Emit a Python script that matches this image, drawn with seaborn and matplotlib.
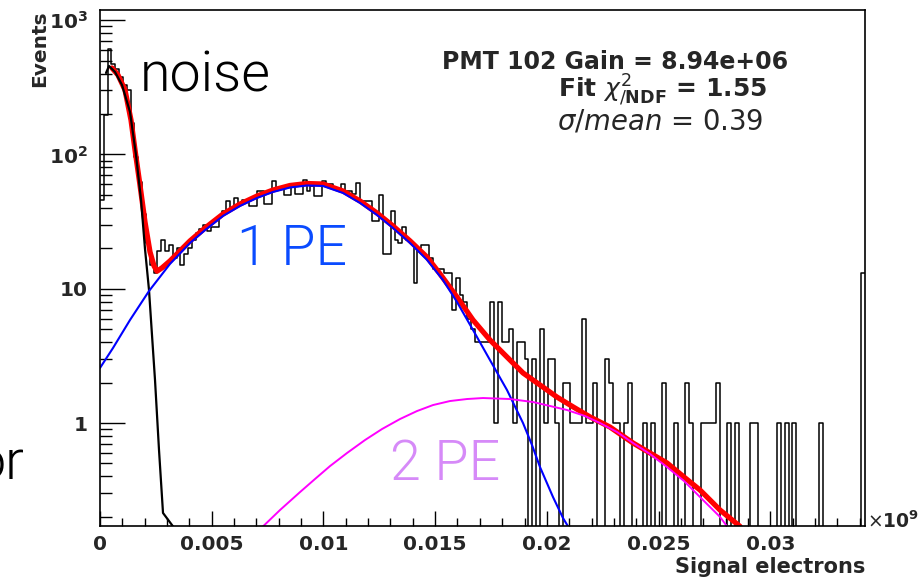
import numpy as np
import matplotlib
matplotlib.use("Agg")
import matplotlib.pyplot as plt
import seaborn as sns
from matplotlib.ticker import MultipleLocator, LogLocator, NullFormatter

# histogram: 200 bins from 0 to 0.03424 (x 10^9 signal electrons)
x_max = 0.03424
n_bins = 200
counts = [
    46, 198, 612, 474, 430, 380, 330, 300, 170, 95,
    62, 36, 22, 15, 13, 19, 23, 19, 21, 17,
    20, 15, 18, 20, 23, 26, 28, 30, 27, 29,
    29, 35, 38, 45, 40, 47, 43, 46, 46, 41,
    41, 53, 53, 43, 43, 63, 56, 56, 50, 50,
    58, 51, 51, 65, 53, 58, 49, 49, 63, 60,
    60, 55, 55, 60, 53, 53, 51, 61, 45, 45,
    45, 32, 32, 50, 18, 18, 38, 23, 22, 29,
    23, 22, 11, 20, 21, 21, 17, 14, 14, 14,
    13, 13, 7, 12, 9, 8, 6, 5, 4, 4,
    4, 4, 8, 1, 8, 4, 4, 5, 1, 4,
    4, 3, 0, 3, 0, 5, 1, 3, 3, 1,
    0, 2, 2, 1, 1, 1, 6, 1, 1, 2,
    0, 0, 3, 2, 1, 1, 0, 1, 2, 0,
    0, 0, 1, 0, 1, 0, 0, 2, 0, 0,
    1, 0, 0, 2, 1, 0, 0, 1, 1, 1,
    1, 2, 0, 0, 1, 0, 1, 0, 0, 0,
    1, 1, 0, 0, 0, 0, 0, 1, 0, 1,
    0, 1, 0, 0, 0, 0, 0, 0, 1, 0,
    0, 0, 0, 0, 0, 0, 0, 0, 0, 13,
]
bin_centers = (np.arange(n_bins) + 0.5) * x_max / n_bins

# fit curves
noise_x = [0.000269, 0.000403, 0.000671, 0.000985, 0.001343, 0.001611, 0.001835,
           0.002014, 0.002193, 0.002328, 0.002462, 0.002641, 0.002820, 0.003267]
noise_y = [404, 455, 411, 329, 207, 99, 46, 19.8, 9.8, 4.5, 2.09, 0.63, 0.214, 0.17]

total_x = [0.000537, 0.000806, 0.001119, 0.001388, 0.001567, 0.00179, 0.002014,
           0.002238, 0.002417, 0.002551, 0.002775, 0.003133, 0.004028, 0.0047,
           0.005505, 0.006266, 0.007027, 0.007743, 0.008504, 0.009265, 0.00998,
           0.010877, 0.011638, 0.012398, 0.013115, 0.013876, 0.014636, 0.015218,
           0.015979, 0.016695, 0.017456, 0.018217, 0.018933, 0.019694, 0.020455,
           0.021171, 0.021932, 0.022828, 0.023857, 0.024618, 0.025379, 0.02614,
           0.026856, 0.027751, 0.028646]
total_y = [440, 390, 302, 180, 108, 59, 31.4, 18.8, 14.8, 13.5, 14.3, 16.1, 22.7, 28.3,
           36.0, 42.7, 49.0, 54.3, 58.7, 60.7, 60.2, 53.4, 45.0, 36.6, 29.3, 22.7,
           17.2, 12.9, 8.67, 5.85, 4.15, 3.10, 2.36, 1.92, 1.56, 1.32, 1.11, 0.933,
           0.710, 0.598, 0.504, 0.396, 0.317, 0.225, 0.17]

pe1_x = [0.0, 0.000582, 0.001343, 0.002193, 0.003133, 0.004028, 0.0047, 0.005505,
         0.006266, 0.007027, 0.007743, 0.008504, 0.009265, 0.00998, 0.010877, 0.011638,
         0.012398, 0.013115, 0.013876, 0.014636, 0.015352, 0.015979, 0.016695, 0.017456,
         0.018217, 0.018933, 0.019336, 0.019694, 0.020276, 0.020724, 0.020948]
pe1_y = [2.57, 3.62, 5.85, 9.61, 15.3, 21.9, 27.3, 34.8, 41.3, 47.4, 52.5, 56.7, 58.7,
         58.2, 51.6, 43.5, 35.4, 28.3, 21.9, 16.4, 11.6, 7.96, 4.93, 2.94, 1.76, 1.0,
         0.686, 0.470, 0.281, 0.196, 0.17]

pe2_x = [0.007296, 0.008057, 0.008952, 0.009623, 0.010295, 0.011056, 0.011861, 0.012622,
         0.013428, 0.014189, 0.014905, 0.015666, 0.016427, 0.017143, 0.018352, 0.019381,
         0.020142, 0.020903, 0.021709, 0.02238, 0.023141, 0.023857, 0.024618, 0.025379,
         0.02614, 0.026856, 0.027304, 0.027751, 0.028065]
pe2_y = [0.17, 0.225, 0.306, 0.383, 0.478, 0.598, 0.747, 0.902, 1.071, 1.228, 1.361,
         1.458, 1.509, 1.535, 1.509, 1.433, 1.339, 1.25, 1.127, 1.0, 0.857, 0.710,
         0.588, 0.470, 0.370, 0.281, 0.237, 0.200, 0.17]

x_ticks = [0, 0.005, 0.01, 0.015, 0.02, 0.025, 0.03]
x_tick_labels = ["0", "0.005", "0.01", "0.015", "0.02", "0.025", "0.03"]
y_ticks = [1, 10, 100, 1000]
y_tick_labels = ["1", "10", r"$\mathbf{10^{2}}$", r"$\mathbf{10^{3}}$"]

sns.set_style("ticks")
plt.rcParams['font.family'] = ['DejaVu Sans']

W, H = 922, 583
fig = plt.figure(figsize=(W / 100, H / 100), dpi=100)
ax = fig.add_axes([100 / W, 1 - 525.7 / H, 765 / W, 515.7 / H])

sns.histplot(x=bin_centers, weights=counts, bins=n_bins, binrange=(0, x_max),
             element="step", fill=False, color="black", linewidth=1.1, ax=ax)
ax.set_yscale("log")

sns.lineplot(x=total_x, y=total_y, color="#ff0000", linewidth=3.8, sort=False,
             estimator=None, ax=ax)
sns.lineplot(x=noise_x, y=noise_y, color="black", linewidth=1.6, sort=False,
             estimator=None, ax=ax)
sns.lineplot(x=pe1_x, y=pe1_y, color="#0000ff", linewidth=1.5, sort=False,
             estimator=None, ax=ax)
sns.lineplot(x=pe2_x, y=pe2_y, color="#ff00ff", linewidth=1.4, sort=False,
             estimator=None, ax=ax)

ax.set_xlim(0, x_max)
ax.set_ylim(0.172, 1189)

ax.set_xticks(x_ticks)
ax.set_xticklabels(x_tick_labels)
ax.xaxis.set_minor_locator(MultipleLocator(0.001))
ax.set_yticks(y_ticks)
ax.set_yticklabels(y_tick_labels)
ax.yaxis.set_minor_locator(LogLocator(base=10, subs=np.arange(2, 10)))
ax.yaxis.set_minor_formatter(NullFormatter())

ax.tick_params(which="both", direction="in", top=False, right=False,
               labelsize=14.5, color="black", width=1)
ax.tick_params(axis="y", which="major", length=18, pad=9)
ax.tick_params(axis="y", which="minor", length=8.6)
ax.tick_params(axis="x", which="major", length=10.8, pad=7)
ax.tick_params(axis="x", which="minor", length=5.8)
for lbl in ax.get_xticklabels() + ax.get_yticklabels():
    lbl.set_fontweight("bold")

for sp in ax.spines.values():
    sp.set_visible(True)
    sp.set_color("black")
    sp.set_linewidth(1.2)

ax.set_ylabel("Events", fontsize=14.5, fontweight="bold", loc="top")
ax.yaxis.set_label_coords(-0.066, 1.0)
ax.set_xlabel("Signal electrons", fontsize=15, fontweight="bold", loc="right")
ax.xaxis.set_label_coords(1.0, -0.06)
ax.text(1.002, -0.004, r"$\times\mathbf{10^{9}}$", transform=ax.transAxes,
        ha="left", va="baseline", fontsize=13.5)

# fit info text
fig.text(788 / W, 1 - 69 / H, "PMT 102 Gain = 8.94e+06", ha="right", va="baseline",
         fontsize=17, fontweight="bold")
fig.text(767 / W, 1 - 97 / H, r"Fit $\chi^{2}_{/\mathbf{NDF}}$ = 1.55", ha="right",
         va="baseline", fontsize=18, fontweight="bold")
fig.text(763 / W, 1 - 130 / H, r"$\sigma/mean$ = 0.39", ha="right", va="baseline",
         fontsize=19.8)

# slide annotations
fam = ["Roboto", "DejaVu Sans"]
lab = dict(fontsize=40, family=fam, fontweight=300, ha="left", va="baseline")
fig.text(140 / W, 1 - 92 / H, "noise", color="black", **lab)
fig.text(237 / W, 1 - 265 / H, "1 PE", color="#0a4bff", **lab)
fig.text(390 / W, 1 - 480 / H, "2 PE", color="#d68af8", **lab)
fig.text(24 / W, 1 - 480 / H, "or", color="black", fontsize=40, family=fam,
         fontweight=300, ha="right", va="baseline")

fig.savefig("out.png", dpi=100)
